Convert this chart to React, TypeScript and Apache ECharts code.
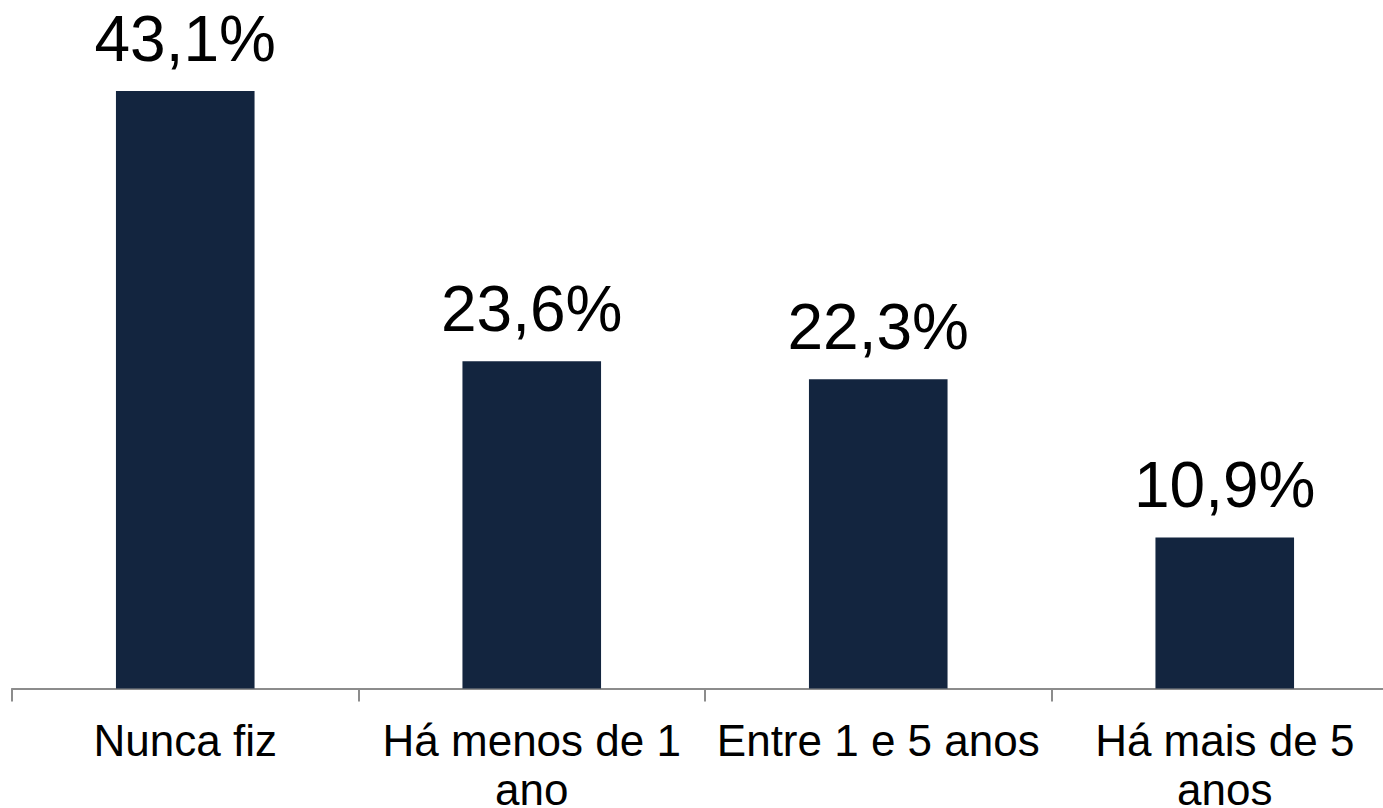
import React, { useEffect, useRef } from "react";
import * as echarts from "echarts";

const categories = ["Nunca fiz", "Há menos de 1\nano", "Entre 1 e 5 anos", "Há mais de 5\nanos"];
const values = [43.1, 23.6, 22.3, 10.9];

export default function App() {
  const ref = useRef<HTMLDivElement>(null);
  useEffect(() => {
    if (!ref.current) return;
    const chart = echarts.init(ref.current, null, { renderer: "svg" });
    chart.setOption({
      animation: false,
      textStyle: { fontFamily: "Liberation Sans, Arial, sans-serif" },
      grid: { left: 12, width: 1386, top: 91, bottom: 119.5, containLabel: false, outerBoundsMode: "none" },
      xAxis: {
        type: "category",
        data: categories,
        axisLine: { show: true, lineStyle: { color: "#8c8c8c", width: 2 } },
        axisTick: { show: true, alignWithLabel: false, length: 13, lineStyle: { color: "#8c8c8c", width: 2 } },
        axisLabel: {
          color: "#000",
          fontSize: 44,
          lineHeight: 49,
          margin: 27,
          interval: 0,
          fontFamily: "Liberation Sans, Arial, sans-serif",
        },
      },
      yAxis: {
        type: "value",
        min: 0,
        max: "dataMax",
        show: false,
        splitLine: { show: false },
      },
      series: [
        {
          type: "bar",
          data: values,
          barWidth: "40%",
          itemStyle: { color: "#13253f" },
          label: {
            show: true,
            position: "top",
            distance: 20,
            color: "#000",
            fontSize: 64,
            fontFamily: "Liberation Sans, Arial, sans-serif",
            formatter: (p: any) => String(p.value.toFixed(1)).replace(".", ",") + "%",
          },
        },
      ],
    });
    return () => chart.dispose();
  }, []);
  return (
    <div
      ref={ref}
      style={{ position: "absolute", left: 0, top: 0, width: 1383, height: 808, background: "#fff" }}
    />
  );
}
